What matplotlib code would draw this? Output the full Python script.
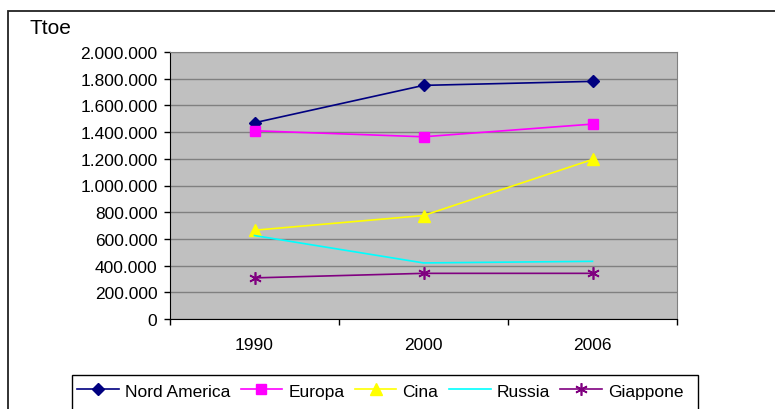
import matplotlib
matplotlib.use("Agg")
from matplotlib import pyplot as plt
from matplotlib.patches import Rectangle
from matplotlib.ticker import FuncFormatter, FixedLocator
import numpy as np

plt.rcParams['font.family'] = ['Liberation Sans', 'DejaVu Sans']

years = ['1990', '2000', '2006']
nord_america = [1470000, 1750000, 1780000]
europa = [1410000, 1365000, 1460000]
cina = [665000, 775000, 1195000]
russia = [625000, 420000, 432000]
giappone = [308000, 342000, 342000]

W, H = 775, 410
fig = plt.figure(figsize=(W / 100, H / 100), dpi=100)

# outer chart frame (runs off the right and bottom edges)
fig.patches.append(Rectangle((8 / W, -0.2), 1.2, 1.2 - 12 / H,
                             transform=fig.transFigure, fill=False,
                             edgecolor='#222222', linewidth=1.3))

ax = fig.add_axes([170 / W, 1 - 320 / H, (677 - 170) / W, (320 - 53) / H])
ax.set_facecolor('#C0C0C0')

x = np.arange(len(years))
ax.plot(x, nord_america, color='#000080', marker='D', ms=6.5, lw=1.2, label='Nord America')
ax.plot(x, europa, color='#FF00FF', marker='s', ms=7, lw=1.2, label='Europa')
ax.plot(x, cina, color='#FFFF00', marker='^', ms=8, lw=1.2, label='Cina')
ax.plot(x, russia, color='#00FFFF', lw=1.2, label='Russia')
ax.plot(x, giappone, color='#800080', marker=(6, 2, 0), ms=9, mew=1.2, lw=1.2, label='Giappone')

ax.set_xlim(-0.5, len(years) - 0.5)
ax.set_ylim(0, 2000000)
ax.set_yticks(np.arange(0, 2000001, 200000))
ax.yaxis.set_major_formatter(FuncFormatter(lambda v, p: '{:,.0f}'.format(v).replace(',', '.')))
ax.grid(axis='y', color='#808080', lw=1)
ax.set_axisbelow(True)

ax.xaxis.set_major_locator(FixedLocator(np.arange(-0.5, len(years), 1.0)))
ax.xaxis.set_major_formatter(plt.NullFormatter())
ax.xaxis.set_minor_locator(FixedLocator(x))
ax.set_xticklabels(years, minor=True)
ax.tick_params(axis='x', which='major', length=4, width=1, direction='out')
ax.tick_params(axis='x', which='minor', length=0, pad=13, labelsize=12.5)
ax.tick_params(axis='y', length=4, width=1, pad=5, labelsize=12.5)

for s in ['top', 'right']:
    ax.spines[s].set_color('#808080')
for s in ['left', 'bottom']:
    ax.spines[s].set_color('black')

fig.text(29 / W, 1 - 28 / H, 'Ttoe', fontsize=15, va='center', ha='left')

# legend box, open at the bottom like the original
fig.patches.append(Rectangle((72 / W, -0.1), (698 - 72) / W, 0.1 + 1 - 376 / H,
                             transform=fig.transFigure, fill=False,
                             edgecolor='black', linewidth=1))
leg = fig.legend(loc='center left', bbox_to_anchor=(77 / W, 1 - 392 / H),
                 ncol=5, frameon=False, fontsize=12.5, handlelength=2.4,
                 handletextpad=0.35, columnspacing=0.6, borderaxespad=0,
                 borderpad=0)

fig.savefig('out.png', dpi=100)
